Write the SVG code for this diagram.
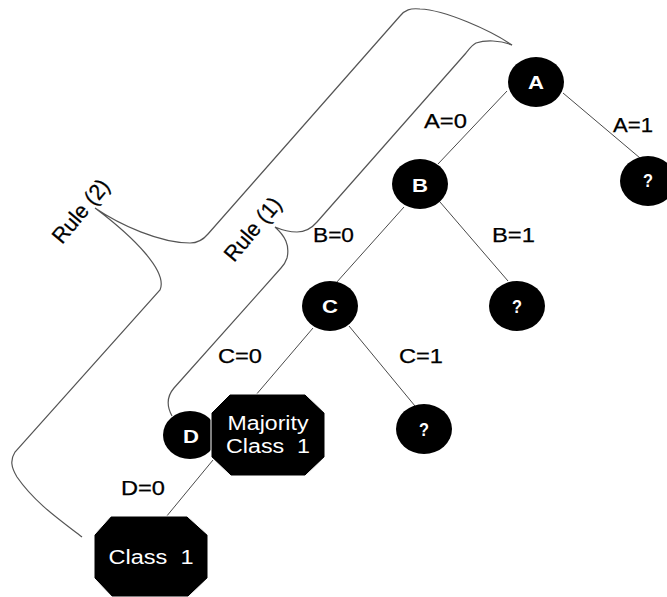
<svg xmlns="http://www.w3.org/2000/svg" width="667" height="597" viewBox="0 0 667 597">
<style>
.edge{stroke:#4a4a4a;stroke-width:1;fill:none}
.brace{stroke:#555;stroke-width:1.2;fill:none}
.node{fill:#000}
.oct{fill:#000;stroke:#fff;stroke-width:1}
.nt{fill:#fff;font-family:"Liberation Sans",Arial,sans-serif;font-weight:bold;font-size:19px;text-anchor:middle}
.ot{fill:#fff;font-family:"Liberation Sans",Arial,sans-serif;font-size:20px;text-anchor:middle;white-space:pre}
.lbl{fill:#000;stroke:#000;stroke-width:0.25;font-family:"Liberation Sans",Arial,sans-serif;font-size:20px}
.rl{font-size:22px}
</style>
<rect width="667" height="597" fill="#fff"/>
<g id="connectors">
<line class="edge" x1="507" y1="91" x2="438" y2="164"/>
<line class="edge" x1="563" y1="93" x2="640" y2="158"/>
<line class="edge" x1="404" y1="207" x2="336" y2="283"/>
<line class="edge" x1="440" y1="202" x2="508" y2="281"/>
<line class="edge" x1="313" y1="328" x2="255" y2="396"/>
<line class="edge" x1="349" y1="326" x2="415" y2="406"/>
<line class="edge" x1="213" y1="460" x2="166" y2="517"/>
</g>
<g id="braces">
<path class="brace" d="M512,45 C490,30 445,10 420,9 C410,8 405,10 400,16 L208,234 C203,240 197,243 190,243 C160,243 120,225 95,208 C135,238 168,272 160,290 L15,452 C10,460 11,467 17,477 C35,503 60,520 82,537"/>
<path class="brace" d="M512,45 C500,40 485,40 476,43 C472,45 470,48 466,53 L317,222 C311,229 304,232 297,232 C290,232 282,230 275,227 C285,236 290,245 287,258 C285,264 283,266 281,268 L174,388 C168,395 166,405 172,416"/>
</g>
<g id="rule2"><text class="lbl rl" transform="translate(62,245) rotate(-50)" textLength="76" lengthAdjust="spacingAndGlyphs">Rule (2)</text></g>
<g id="rule1"><text class="lbl rl" transform="translate(234,263) rotate(-50)" textLength="76" lengthAdjust="spacingAndGlyphs">Rule (1)</text></g>
<g id="labels">
<text class="lbl" x="424" y="128" textLength="43" lengthAdjust="spacingAndGlyphs">A=0</text>
<text class="lbl" x="613" y="132" textLength="40" lengthAdjust="spacingAndGlyphs">A=1</text>
<text class="lbl" x="313" y="242" textLength="41" lengthAdjust="spacingAndGlyphs">B=0</text>
<text class="lbl" x="492" y="242" textLength="43" lengthAdjust="spacingAndGlyphs">B=1</text>
<text class="lbl" x="218" y="363" textLength="44" lengthAdjust="spacingAndGlyphs">C=0</text>
<text class="lbl" x="399" y="363" textLength="44" lengthAdjust="spacingAndGlyphs">C=1</text>
<text class="lbl" x="121" y="495" textLength="44" lengthAdjust="spacingAndGlyphs">D=0</text>
</g>
<g id="nodeA"><ellipse class="node" cx="536" cy="82" rx="28" ry="25"/><text class="nt" x="536" y="89" textLength="16" lengthAdjust="spacingAndGlyphs">A</text></g>
<g id="nodeQA"><ellipse class="node" cx="648" cy="181" rx="28" ry="25"/><text class="nt" x="648" y="187" textLength="10" lengthAdjust="spacingAndGlyphs">?</text></g>
<g id="nodeB"><ellipse class="node" cx="420" cy="184" rx="28" ry="25"/><text class="nt" x="420" y="192" textLength="16" lengthAdjust="spacingAndGlyphs">B</text></g>
<g id="nodeQB"><ellipse class="node" cx="517" cy="306" rx="28" ry="25"/><text class="nt" x="517" y="313" textLength="10" lengthAdjust="spacingAndGlyphs">?</text></g>
<g id="nodeC"><ellipse class="node" cx="330" cy="306" rx="28" ry="25"/><text class="nt" x="330" y="313" textLength="16" lengthAdjust="spacingAndGlyphs">C</text></g>
<g id="nodeQC"><ellipse class="node" cx="424" cy="429" rx="28" ry="25"/><text class="nt" x="424" y="436" textLength="10" lengthAdjust="spacingAndGlyphs">?</text></g>
<g id="nodeD"><ellipse class="node" cx="190" cy="435" rx="27" ry="24"/><text class="nt" x="191" y="443" textLength="16" lengthAdjust="spacingAndGlyphs">D</text></g>
<g id="nodeMajority"><polygon class="oct" points="230,394 305,394 325,413 325,457 305,476 231,476 211,457 211,413"/><text class="ot" x="268" y="430" textLength="81" lengthAdjust="spacingAndGlyphs">Majority</text><text class="ot" x="268" y="453" textLength="84" lengthAdjust="spacingAndGlyphs">Class  1</text></g>
<g id="nodeClass1"><polygon class="oct" points="111,516 187,516 208,535 208,578 188,597 112,597 94,578 94,535"/><text class="ot" x="151" y="564" textLength="85" lengthAdjust="spacingAndGlyphs">Class  1</text></g>
</svg>
